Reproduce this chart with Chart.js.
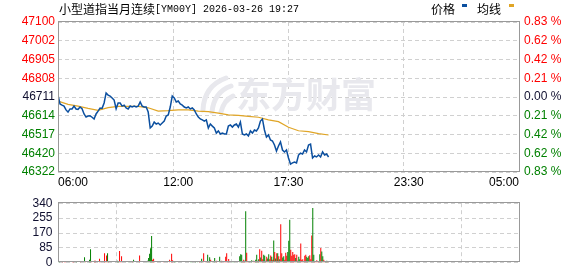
<!DOCTYPE html>
<html>
<head>
<meta charset="utf-8">
<script src="https://cdn.jsdelivr.net/npm/chart.js@4.4.1/dist/chart.umd.min.js"></script>
<style>
    html, body { margin: 0; padding: 0; background: #fff; }
    #wrap { position: relative; width: 578px; height: 276px; overflow: hidden; }
    #priceChart { position: absolute; left: 0; top: 0; }
    #volChart { position: absolute; left: 0; top: 190px; }
</style>
</head>
<body>
<div id="wrap">
    <canvas id="priceChart" width="578" height="190"></canvas>
    <canvas id="volChart" width="578" height="86"></canvas>
</div>
<script>
// --- Datos ---
const titleName = '小型道指当月连续';
const titleCode = '[YM00Y] 2026-03-26 19:27';
const legendLabels = ['价格', '均线'];
const watermarkText = '东方财富';

// etiquetas del eje de precios (de arriba a abajo)
const yLabels = ['47100', '47002', '46905', '46808', '46711', '46614', '46517', '46420', '46322'];
const pctLabels = ['0.83 %', '0.62 %', '0.42 %', '0.21 %', '0.00 %', '0.21 %', '0.42 %', '0.62 %', '0.83 %'];

// eje de tiempo en minutos desde las 06:00
const timeLabels = ['06:00', '12:00', '17:30', '23:30', '05:00'];
const labelMinutes = [0, 360, 690, 1050, 1380];
const gridMinutes = [0, 345, 690, 1035, 1380];

// precio cada 6 minutos desde las 06:00
const priceStep = 6;
const prices = [
    46720, 46675, 46669, 46664, 46644, 46633, 46649, 46649, 46664, 46649,
    46647, 46659, 46650, 46623, 46607, 46612, 46613, 46606, 46597, 46623,
    46638, 46654, 46652, 46680, 46732, 46721, 46716, 46706, 46695, 46650,
    46680, 46680, 46664, 46669, 46654, 46649, 46664, 46659, 46664, 46659,
    46664, 46685, 46664, 46659, 46659, 46633, 46550, 46560, 46581, 46571,
    46576, 46566, 46576, 46586, 46612, 46618, 46659, 46716, 46706, 46685,
    46690, 46675, 46669, 46659, 46654, 46659, 46649, 46654, 46644, 46623,
    46607, 46597, 46592, 46586, 46592, 46550, 46571, 46560, 46550, 46524,
    46535, 46519, 46524, 46519, 46519, 46560, 46566, 46555, 46566, 46571,
    46555, 46581, 46519, 46514, 46519, 46509, 46535, 46524, 46540, 46535,
    46550, 46586, 46597, 46540, 46503, 46514, 46488, 46483, 46462, 46431,
    46457, 46478, 46436, 46426, 46436, 46395, 46363, 46369, 46374, 46369,
    46410, 46420, 46415, 46436, 46426, 46462, 46467, 46395, 46405, 46400,
    46410, 46400, 46426, 46410, 46415, 46400
];

// línea media cada 30 minutos
const avgStep = 30;
const avgPrices = [
    46690, 46673, 46664, 46652, 46642, 46656, 46662, 46662, 46662, 46655,
    46638, 46640, 46644, 46644, 46638, 46635, 46627, 46618, 46616, 46611,
    46606, 46592, 46583, 46554, 46536, 46531, 46521, 46514
];

// volumen cada 3 minutos; r = sube, g = baja
const volStep = 3;
const volTicks = [0, 85, 170, 255, 340];
const volumes = [
    38, 6, 3, 3, 4, 3, 8, 7, 3, 3,
    3, 3, 3, 3, 4, 8, 3, 3, 6, 3,
    3, 3, 7, 3, 3, 3, 31, 8, 3, 3,
    3, 18, 77, 4, 3, 3, 12, 12, 3, 3,
    3, 23, 4, 3, 3, 3, 54, 6, 41, 54,
    8, 3, 3, 3, 3, 3, 3, 3, 3, 12,
    8, 67, 4, 37, 3, 3, 3, 3, 3, 3,
    5, 3, 3, 3, 4, 18, 3, 3, 3, 3,
    3, 41, 3, 3, 3, 3, 3, 3, 3, 12,
    28, 51, 83, 153, 18, 23, 8, 3, 3, 3,
    3, 3, 3, 3, 3, 8, 3, 3, 3, 3,
    3, 18, 3, 51, 15, 3, 9, 9, 3, 3,
    3, 3, 3, 3, 3, 3, 3, 3, 3, 3,
    3, 3, 4, 5, 3, 3, 3, 5, 3, 9,
    3, 4, 3, 23, 3, 54, 3, 8, 3, 46,
    5, 31, 18, 3, 5, 3, 28, 3, 12, 3,
    3, 34, 3, 12, 3, 3, 5, 34, 54, 3,
    21, 3, 3, 3, 9, 9, 3, 3, 3, 3,
    3, 38, 49, 46, 5, 18, 12, 294, 58, 8,
    3, 5, 3, 14, 3, 12, 5, 18, 46, 12,
    20, 77, 30, 69, 20, 46, 40, 12, 34, 25,
    49, 20, 41, 34, 18, 127, 61, 25, 54, 54,
    38, 20, 220, 54, 30, 38, 18, 57, 40, 61,
    126, 245, 74, 40, 61, 46, 49, 28, 46, 12,
    34, 20, 110, 18, 20, 9, 40, 46, 34, 28,
    38, 43, 20, 156, 312, 46, 9, 5, 14, 5,
    9, 49, 84, 64, 38, 18, 9, 5, 12, 5, 3
];
const volSide = (
    'ggrrrrrrrr' + 'rrrrrrrrgr' + 'rrrrrrgrrr' + 'rggrrrrrrr' + 'rrrrrgrrrg' +
    'rrrggrrggg' + 'grrrrrrrrr' + 'grrrrgrrrr' + 'rrrrrrrrrg' + 'ggggrrrrrr' +
    'rrrrrrrrrr' + 'rrrrrrgggg' + 'ggrrrrrrrr' + 'rrggrrrgrg' + 'rrrgrrrrrg' +
    'rgrrgrgrrr' + 'rggrrrrrrr' + 'rrrggggrrr' + 'rgggrrrgrr' + 'rgrgrrrggr' +
    'grgrrggrrg' + 'grrgrgrgrg' + 'rgrrggrrrg' + 'ggrrrrrgrg' + 'ggrrrgrrgg' +
    'grrrggrrrr' + 'rgrggrrggrg'
).split('');

// --- Estilos ---
const RED = '#ff0000';
const GREEN = '#008000';
const DARK = '#101030';
const GRID = '#d0d0d0';
const FRAME = '#999999';
const PRICE_COLOR = '#0b4f9f';
const AVG_COLOR = '#e0a526';
const tickFont = { family: '"Liberation Sans", Arial, sans-serif', size: 12 };
const cjkFont = '"Noto Sans CJK SC", sans-serif';

const yMin = Number(yLabels[yLabels.length - 1]);
const yMax = Number(yLabels[0]);

function evenTicks(scale) {
    const n = yLabels.length - 1;
    scale.ticks = yLabels.map((_, k) => ({ value: yMin + (yMax - yMin) * k / n }));
}

// color según posición respecto al cierre anterior (índice desde abajo)
function sideColor(i) {
    const mid = (yLabels.length - 1) / 2;
    if (i > mid) return RED;
    if (i < mid) return GREEN;
    return DARK;
}

// Marco gris alrededor del área de dibujo
const framePlugin = {
    id: 'frame',
    afterDatasetsDraw(chart) {
        const { ctx, chartArea: a } = chart;
        const x0 = Math.floor(a.left) + 0.5;
        const x1 = Math.floor(a.right) + 0.5;
        const y0 = Math.floor(a.top) - 0.5;
        const y1 = Math.floor(a.bottom) - 0.5;
        ctx.save();
        ctx.strokeStyle = FRAME;
        ctx.lineWidth = 1;
        ctx.strokeRect(x0, y0, x1 - x0, y1 - y0);
        ctx.restore();
    }
};

// Título, leyenda y marca de agua
const decorPlugin = {
    id: 'decor',
    beforeDatasetsDraw(chart) {
        const ctx = chart.ctx;
        ctx.save();
        ctx.fillStyle = '#e8e8ed';
        ctx.strokeStyle = '#e8e8ed';
        ctx.lineCap = 'round';
        ctx.lineWidth = 5;
        ctx.beginPath();
        ctx.moveTo(203, 110); ctx.quadraticCurveTo(204, 86, 226, 78);
        ctx.moveTo(212, 112); ctx.quadraticCurveTo(214, 92, 231, 86);
        ctx.moveTo(221, 112); ctx.quadraticCurveTo(224, 100, 233, 96);
        ctx.stroke();
        ctx.font = 'bold 35px ' + cjkFont;
        ctx.textBaseline = 'middle';
        ctx.fillText(watermarkText, 236, 95);
        ctx.restore();
    },
    afterDraw(chart) {
        const ctx = chart.ctx;
        ctx.save();
        ctx.textBaseline = 'middle';
        ctx.fillStyle = '#000';
        ctx.font = '12px ' + cjkFont;
        ctx.fillText(titleName, 59, 9);
        const w = ctx.measureText(titleName).width;
        ctx.font = '10px "Liberation Mono", monospace';
        ctx.fillText(titleCode, 59 + w, 9);

        ctx.font = '12px ' + cjkFont;
        ctx.fillText(legendLabels[0], 431, 9);
        ctx.fillText(legendLabels[1], 477, 9);
        ctx.fillStyle = PRICE_COLOR;
        ctx.fillRect(462, 4, 5, 3);
        ctx.fillStyle = AVG_COLOR;
        ctx.fillRect(509, 4, 5, 3);
        ctx.restore();
    }
};

const priceData = prices.map((p, i) => ({ x: i * priceStep, y: p }));
const avgData = avgPrices.map((p, i) => ({ x: i * avgStep, y: p }));
const xTicks = [...new Set([...gridMinutes, ...labelMinutes])].sort((a, b) => a - b);

new Chart(document.getElementById('priceChart'), {
    type: 'line',
    data: {
        datasets: [{
            label: legendLabels[0],
            data: priceData,
            borderColor: PRICE_COLOR,
            borderWidth: 1.5,
            pointRadius: 0,
            tension: 0
        }, {
            label: legendLabels[1],
            data: avgData,
            borderColor: AVG_COLOR,
            borderWidth: 1.2,
            pointRadius: 0,
            tension: 0
        }]
    },
    options: {
        responsive: false,
        animation: false,
        layout: { padding: { top: 22, left: 0, right: 0, bottom: 0 } },
        plugins: { legend: { display: false }, tooltip: { enabled: false } },
        scales: {
            x: {
                type: 'linear',
                min: 0,
                max: 1380,
                afterBuildTicks: s => { s.ticks = xTicks.map(v => ({ value: v })); },
                afterFit: s => { s.height = 18; },
                ticks: {
                    autoSkip: false,
                    maxRotation: 0,
                    align: 'inner',
                    padding: 3,
                    color: '#000',
                    font: tickFont,
                    callback: v => {
                        const k = labelMinutes.indexOf(v);
                        return k >= 0 ? timeLabels[k] : '';
                    }
                },
                grid: {
                    drawTicks: false,
                    color: ctx => (ctx.tick && gridMinutes.includes(ctx.tick.value)) ? GRID : 'rgba(0,0,0,0)'
                },
                border: { display: false, dash: [4, 3] }
            },
            y: {
                position: 'left',
                min: yMin,
                max: yMax,
                afterBuildTicks: evenTicks,
                afterFit: s => { s.width = 58; },
                ticks: {
                    autoSkip: false,
                    padding: 3,
                    font: tickFont,
                    color: ctx => sideColor(ctx.index),
                    callback: (v, i) => yLabels[yLabels.length - 1 - i]
                },
                grid: { drawTicks: false, color: GRID },
                border: { display: false, dash: [4, 3] }
            },
            y1: {
                position: 'right',
                min: yMin,
                max: yMax,
                afterBuildTicks: evenTicks,
                afterFit: s => { s.width = 59; },
                ticks: {
                    autoSkip: false,
                    padding: 5,
                    font: tickFont,
                    color: ctx => sideColor(ctx.index),
                    callback: (v, i) => pctLabels[pctLabels.length - 1 - i]
                },
                grid: { display: false, drawTicks: false },
                border: { display: false }
            }
        }
    },
    plugins: [decorPlugin, framePlugin]
});

// --- Gráfico de volumen ---
const volData = volumes.map((v, i) => ({ x: i * volStep, y: v }));

new Chart(document.getElementById('volChart'), {
    type: 'bar',
    data: {
        datasets: [{
            data: volData,
            backgroundColor: volSide.map(s => s === 'r' ? RED : GREEN),
            barThickness: 1,
            borderWidth: 0,
            inflateAmount: 0
        }]
    },
    options: {
        responsive: false,
        animation: false,
        // medio píxel a la izquierda para que las barras de 1px caigan en píxel entero
        layout: { padding: { top: 6, left: 0.5, right: 59, bottom: 6 } },
        plugins: { legend: { display: false }, tooltip: { enabled: false } },
        scales: {
            x: {
                type: 'linear',
                min: 0,
                max: 1380,
                offset: false,
                afterBuildTicks: s => { s.ticks = gridMinutes.map(v => ({ value: v })); },
                afterFit: s => { s.height = 0; },
                ticks: { display: false },
                grid: { drawTicks: false, color: GRID },
                border: { display: false, dash: [4, 3] }
            },
            y: {
                min: 0,
                max: volTicks[volTicks.length - 1],
                afterBuildTicks: s => { s.ticks = volTicks.map(v => ({ value: v })); },
                afterFit: s => { s.width = 58; },
                ticks: { autoSkip: false, padding: 6, font: tickFont, color: DARK },
                grid: { drawTicks: false, color: GRID },
                border: { display: false, dash: [4, 3] }
            }
        }
    },
    plugins: [framePlugin]
});
</script>
</body>
</html>
